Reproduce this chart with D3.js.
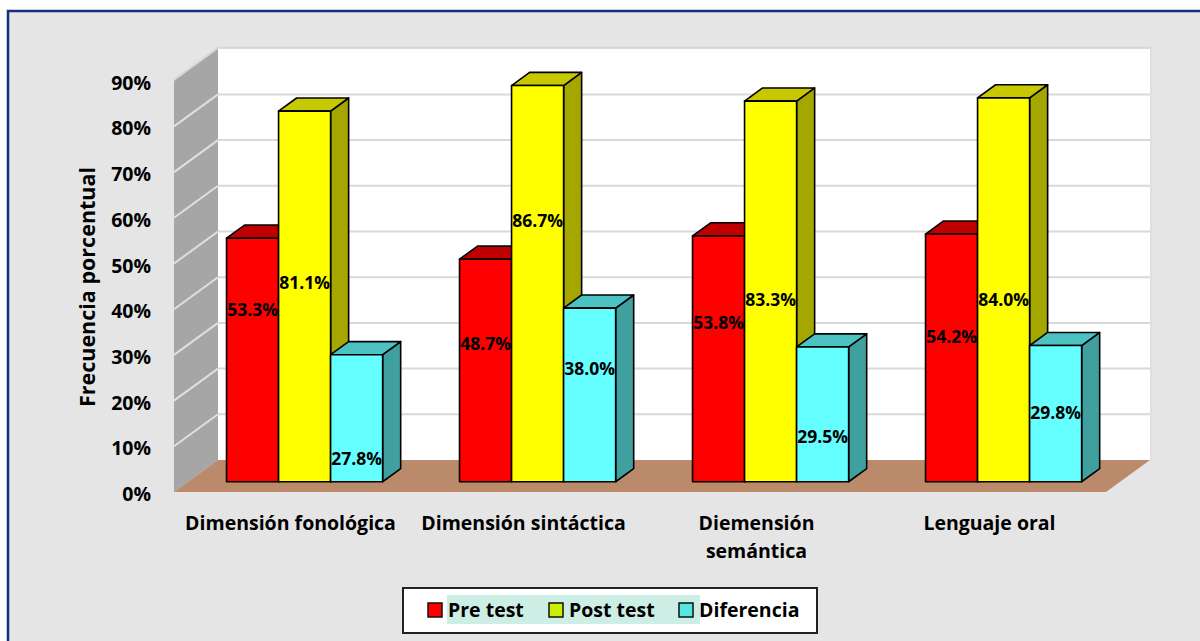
<!DOCTYPE html>
<html>
<head>
<meta charset="utf-8">
<script src="https://cdn.jsdelivr.net/npm/d3@7"></script>
<style>
  html, body { margin: 0; padding: 0; background: #fff; }
  svg { display: block; font-family: "Open Sans", "Noto Sans", sans-serif; }
</style>
</head>
<body>
<div id="chart"></div>
<script>
var categories = [["Dimensión fonológica"], ["Dimensión sintáctica"], ["Diemensión", "semántica"], ["Lenguaje oral"]];
var seriesNames = ["Pre test", "Post test", "Diferencia"];
var preTest = [0.533, 0.487, 0.538, 0.542];
var postTest = [0.811, 0.867, 0.833, 0.840];
var diferencia = [0.278, 0.380, 0.295, 0.298];
var yTicks = [0, 0.1, 0.2, 0.3, 0.4, 0.5, 0.6, 0.7, 0.8, 0.9];
// where each data label sits (value level on the front face), as placed in the original
var preLabelAt = [0.377, 0.303, 0.349, 0.318];
var postLabelAt = [0.437, 0.573, 0.399, 0.399];
var difLabelAt = [0.052, 0.248, 0.100, 0.153];

var WIDTH = 1200, HEIGHT = 641;
var DX = 44, DY = 32;           // depth offset of the plot box
var BAR_Z0 = 0.32, BAR_Z1 = 0.73; // depth band occupied by the bars

var styles = [
  { front: "#ff0000", top: "#c00000", side: "#a00000", swatch: "#ff0000" },
  { front: "#ffff00", top: "#c8c800", side: "#a6a600", swatch: "#ccee00" },
  { front: "#66ffff", top: "#4dc2c2", side: "#40a0a0", swatch: "#55e8e2" }
];

var series = [preTest, postTest, diferencia];
var labelLevels = [preLabelAt, postLabelAt, difLabelAt];

var svg = d3.select("#chart").append("svg")
  .attr("width", WIDTH)
  .attr("height", HEIGHT);

// chart area with border
svg.append("rect")
  .attr("x", 8).attr("y", 11)
  .attr("width", WIDTH + 20).attr("height", HEIGHT + 20)
  .attr("fill", "#e5e5e5")
  .attr("stroke", "#14307a")
  .attr("stroke-width", 2.5);

// scales (front plane)
var x = d3.scaleBand().domain(d3.range(categories.length)).range([174, 1106]).padding(0);
var y = d3.scaleLinear().domain([0, 1]).range([492, 492 - 457]);
var xs = d3.scaleBand().domain(d3.range(series.length))
  .range([0, x.bandwidth() * 0.67]);

function P(px, v, z) {
  return [px + z * DX, y(v) - z * DY];
}
function poly(pts) {
  return pts.map(function(p) { return p.join(","); }).join(" ");
}

var yMax = 0.9;
var x0 = x.range()[0], x1 = x.range()[1];

// back wall
var wallTop = P(x0, yMax, 1)[1];
var wallBot = P(x0, 0, 1)[1];
svg.append("rect")
  .attr("x", x0 + DX).attr("y", wallTop)
  .attr("width", x1 - x0).attr("height", wallBot - wallTop)
  .attr("fill", "#ffffff");
svg.append("line")
  .attr("x1", x0 + DX).attr("x2", x1 + DX + 1)
  .attr("y1", wallTop - 1).attr("y2", wallTop - 1)
  .attr("stroke", "#d6d6d6").attr("stroke-width", 2);
svg.append("line")
  .attr("x1", x1 + DX + 1).attr("x2", x1 + DX + 1)
  .attr("y1", wallTop - 1).attr("y2", wallBot)
  .attr("stroke", "#dcdcdc").attr("stroke-width", 1.5);

// side wall
svg.append("polygon")
  .attr("points", poly([P(x0, yMax, 0), P(x0, yMax, 1), P(x0, 0, 1), P(x0, 0, 0)]))
  .attr("fill", "#a6a6a6");
svg.append("line")
  .attr("x1", P(x0, yMax, 0)[0]).attr("y1", P(x0, yMax, 0)[1] - 1)
  .attr("x2", P(x0, yMax, 1)[0]).attr("y2", P(x0, yMax, 1)[1] - 1)
  .attr("stroke", "#d6d6d6").attr("stroke-width", 2);

// gridlines
var grid = yTicks.filter(function(d) { return d > 0 && d < yMax; });
svg.selectAll(".grid-back")
  .data(grid)
  .join("line")
  .attr("class", "grid-back")
  .attr("x1", x0 + DX).attr("x2", x1 + DX)
  .attr("y1", function(d) { return P(x0, d, 1)[1]; })
  .attr("y2", function(d) { return P(x0, d, 1)[1]; })
  .attr("stroke", "#d9d9d9").attr("stroke-width", 2);
svg.selectAll(".grid-side")
  .data(grid)
  .join("line")
  .attr("class", "grid-side")
  .attr("x1", x0).attr("x2", x0 + DX)
  .attr("y1", function(d) { return P(x0, d, 0)[1]; })
  .attr("y2", function(d) { return P(x0, d, 1)[1]; })
  .attr("stroke", "#e0e0e0").attr("stroke-width", 2);

// floor
svg.append("polygon")
  .attr("points", poly([P(x0, 0, 0), P(x1, 0, 0), P(x1, 0, 1), P(x0, 0, 1)]))
  .attr("fill", "#bb8a6a");

// bars
var barsG = svg.append("g");
categories.forEach(function(c, i) {
  series.forEach(function(vals, s) {
    var v = vals[i];
    var st = styles[s];
    var left = x(i) + (x.bandwidth() - xs.range()[1]) / 2 + xs(s);
    var right = left + xs.bandwidth();
    var g = barsG.append("g");
    // side face
    g.append("polygon")
      .attr("points", poly([P(right, 0, BAR_Z0), P(right, 0, BAR_Z1), P(right, v, BAR_Z1), P(right, v, BAR_Z0)]))
      .attr("fill", st.side).attr("stroke", "#000").attr("stroke-width", 1.6)
      .attr("stroke-linejoin", "round");
    // top face
    g.append("polygon")
      .attr("points", poly([P(left, v, BAR_Z0), P(right, v, BAR_Z0), P(right, v, BAR_Z1), P(left, v, BAR_Z1)]))
      .attr("fill", st.top).attr("stroke", "#000").attr("stroke-width", 1.6)
      .attr("stroke-linejoin", "round");
    // front face
    g.append("polygon")
      .attr("points", poly([P(left, 0, BAR_Z0), P(right, 0, BAR_Z0), P(right, v, BAR_Z0), P(left, v, BAR_Z0)]))
      .attr("fill", st.front).attr("stroke", "#000").attr("stroke-width", 1.6)
      .attr("stroke-linejoin", "round");
  });
});

// data labels
categories.forEach(function(c, i) {
  series.forEach(function(vals, s) {
    var left = x(i) + (x.bandwidth() - xs.range()[1]) / 2 + xs(s);
    var p = P(left + xs.bandwidth() / 2, labelLevels[s][i], BAR_Z0);
    svg.append("text")
      .attr("x", p[0]).attr("y", p[1])
      .attr("text-anchor", "middle")
      .attr("dominant-baseline", "central")
      .style("font-size", "17.5px")
      .style("font-weight", "bold")
      .attr("fill", "#000")
      .text(d3.format(".1%")(vals[i]));
  });
});

// y axis tick labels
svg.selectAll(".ytick")
  .data(yTicks)
  .join("text")
  .attr("class", "ytick")
  .attr("x", 151)
  .attr("y", function(d) { return y(d) + 1.5; })
  .attr("text-anchor", "end")
  .attr("dominant-baseline", "central")
  .style("font-size", "19.5px")
  .style("font-weight", "bold")
  .attr("fill", "#000")
  .text(function(d) { return d3.format(".0%")(d); });

// y axis title
svg.append("text")
  .attr("transform", "translate(86,287) rotate(-90)")
  .attr("text-anchor", "middle")
  .attr("dominant-baseline", "central")
  .style("font-size", "21.5px")
  .style("font-weight", "bold")
  .text("Frecuencia porcentual");

// category labels
categories.forEach(function(lines, i) {
  var t = svg.append("text")
    .attr("text-anchor", "middle")
    .style("font-size", "19.5px")
    .style("font-weight", "bold")
    .attr("fill", "#000");
  lines.forEach(function(line, k) {
    t.append("tspan")
      .attr("x", x(i) + x.bandwidth() / 2)
      .attr("y", 530 + k * 28)
      .text(line);
  });
});

// legend
var legend = svg.append("g");
legend.append("rect")
  .attr("x", 403).attr("y", 588)
  .attr("width", 414).attr("height", 45)
  .attr("fill", "#fff").attr("stroke", "#222").attr("stroke-width", 2);
legend.append("rect")
  .attr("x", 447).attr("y", 595)
  .attr("width", 253).attr("height", 29)
  .attr("fill", "#cdeee4");
var legendX = [428, 549, 679];
seriesNames.forEach(function(name, s) {
  legend.append("rect")
    .attr("x", legendX[s]).attr("y", 603)
    .attr("width", 14).attr("height", 14)
    .attr("fill", styles[s].swatch)
    .attr("stroke", "#111").attr("stroke-width", 1.5);
  legend.append("text")
    .attr("x", legendX[s] + 20).attr("y", 617)
    .style("font-size", "19.5px")
    .style("font-weight", "bold")
    .attr("fill", "#000")
    .text(name);
});
</script>
</body>
</html>
